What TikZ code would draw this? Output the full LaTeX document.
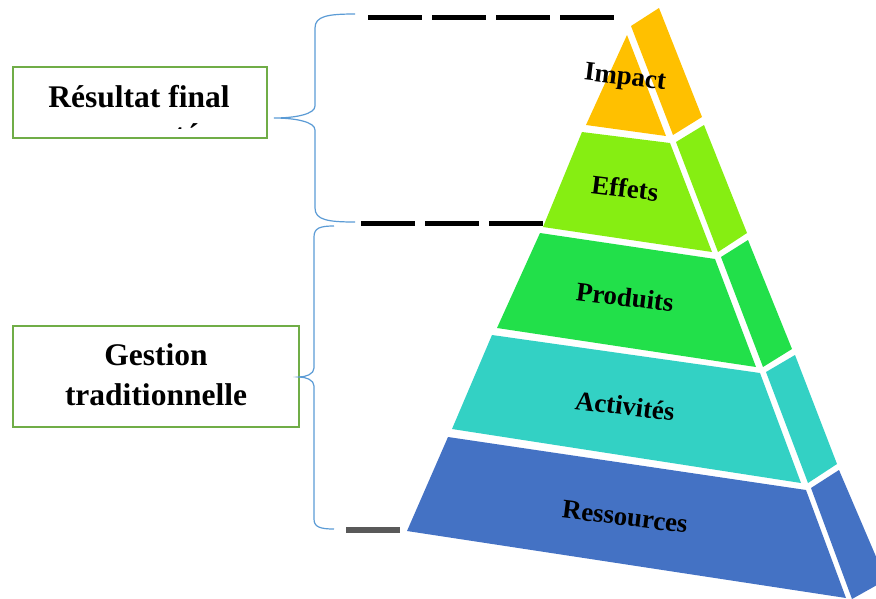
\documentclass[tikz,border=0pt]{standalone}
\usepackage{fontspec}
\setmainfont{Liberation Serif}
\definecolor{boxgreen}{HTML}{70AD47}
\definecolor{braceblue}{HTML}{5B9BD5}
\definecolor{guidegray}{HTML}{595959}
\definecolor{cImpact}{HTML}{FFC000}
\definecolor{cEffets}{HTML}{86EE12}
\definecolor{cProduits}{HTML}{22E04A}
\definecolor{cActivites}{HTML}{33D1C4}
\definecolor{cRessources}{HTML}{4472C4}
\begin{document}
\begin{tikzpicture}[x=1pt,y=-1pt,
  framebox/.style={draw=boxgreen, line width=2.5pt, fill=white},
  boxlabel/.style={font=\fontsize{31.5}{38}\selectfont\bfseries, inner sep=0pt, anchor=base},
  layerlabel/.style={font=\fontsize{26.8}{30}\selectfont\bfseries, rotate=-7, inner sep=0pt},
  brace/.style={draw=braceblue, line width=1.2pt},
  guide/.style={line width=5pt, dash pattern=on 54pt off 10pt},
]
\useasboundingbox (0,0) rectangle (876,598);

% dashed guide lines (drawn first, so the pyramid covers their ends)
\coordinate (gTopA) at (368,17);
\coordinate (gTopB) at (614,17);
\coordinate (gMidA) at (361,223);
\coordinate (gMidB) at (545,223);
\coordinate (gLowA) at (346,529.5);
\coordinate (gLowB) at (400,529.5);
\draw[guide] (gTopA) -- (gTopB);
\draw[guide] (gMidA) -- (gMidB);
\draw[line width=6pt, guidegray] (gLowA) -- (gLowB);

% pyramid: front faces and side faces
\begin{scope}
  \clip (0,0) rectangle (876,598);
  \fill[cImpact]     (627,35) -- (666,136) -- (586,125) -- cycle;
  \fill[cImpact]     (631,26) -- (659,8) -- (702,117) -- (673,135) -- cycle;
  \fill[cEffets]     (582,132) -- (670,143) -- (712,252) -- (543,227) -- cycle;
  \fill[cEffets]     (676,142) -- (704,125) -- (747,233) -- (718,252) -- cycle;
  \fill[cProduits]   (540,233) -- (715,259) -- (756,367) -- (497,328) -- cycle;
  \fill[cProduits]   (721,257) -- (748,240) -- (792,349) -- (763,367) -- cycle;
  \fill[cActivites]  (492,335) -- (760,373) -- (801,483) -- (452,429) -- cycle;
  \fill[cActivites]  (766,372) -- (795,355) -- (837,464) -- (808,483) -- cycle;
  \fill[cRessources] (448,437) -- (806,490) -- (846,598) -- (407,531) -- cycle;
  \fill[cRessources] (811,488) -- (839,470) -- (886,580) -- (852,599) -- cycle;
\end{scope}

% layer labels
\node[layerlabel] (lImpact)     at (625,79)  {Impact};
\node[layerlabel] (lEffets)     at (625,188) {Effets};
\node[layerlabel] (lProduits)   at (625,297) {Produits};
\node[layerlabel] (lActivites)  at (625,406) {Activités};
\node[layerlabel] (lRessources) at (625,517) {Ressources};

% framed captions on the left
\draw[framebox] (13,67) rectangle (267,138);
\node[boxlabel] (tResultat) at (139,107) {Résultat final};
\begin{scope}
  \clip (14,68) rectangle (266,128);
  \node[boxlabel] (tEscompte) at (137,145.5) {escompté};
\end{scope}

\draw[framebox] (13,326) rectangle (299,427);
\node[boxlabel] (tGestion) at (156,365) {Gestion};
\node[boxlabel] (tTrad)    at (156,405) {traditionnelle};

% curly braces
\coordinate (bTopTip) at (274,118);
\coordinate (bLowTip) at (299,377);
\draw[brace] (355,14) .. controls (328,14) and (315,16) .. (315,28)
  -- (315,106) .. controls (315,114) and (296,118) .. (bTopTip)
  .. controls (296,118) and (315,122) .. (315,130)
  -- (315,208) .. controls (315,220) and (328,222) .. (355,222);
\draw[brace] (334,226) .. controls (320,226) and (314,228) .. (314,237)
  -- (314,368) .. controls (314,374) and (306,377) .. (bLowTip)
  .. controls (306,377) and (314,380) .. (314,386)
  -- (314,519) .. controls (314,527) and (320,529) .. (334,529);
\end{tikzpicture}
\end{document}
